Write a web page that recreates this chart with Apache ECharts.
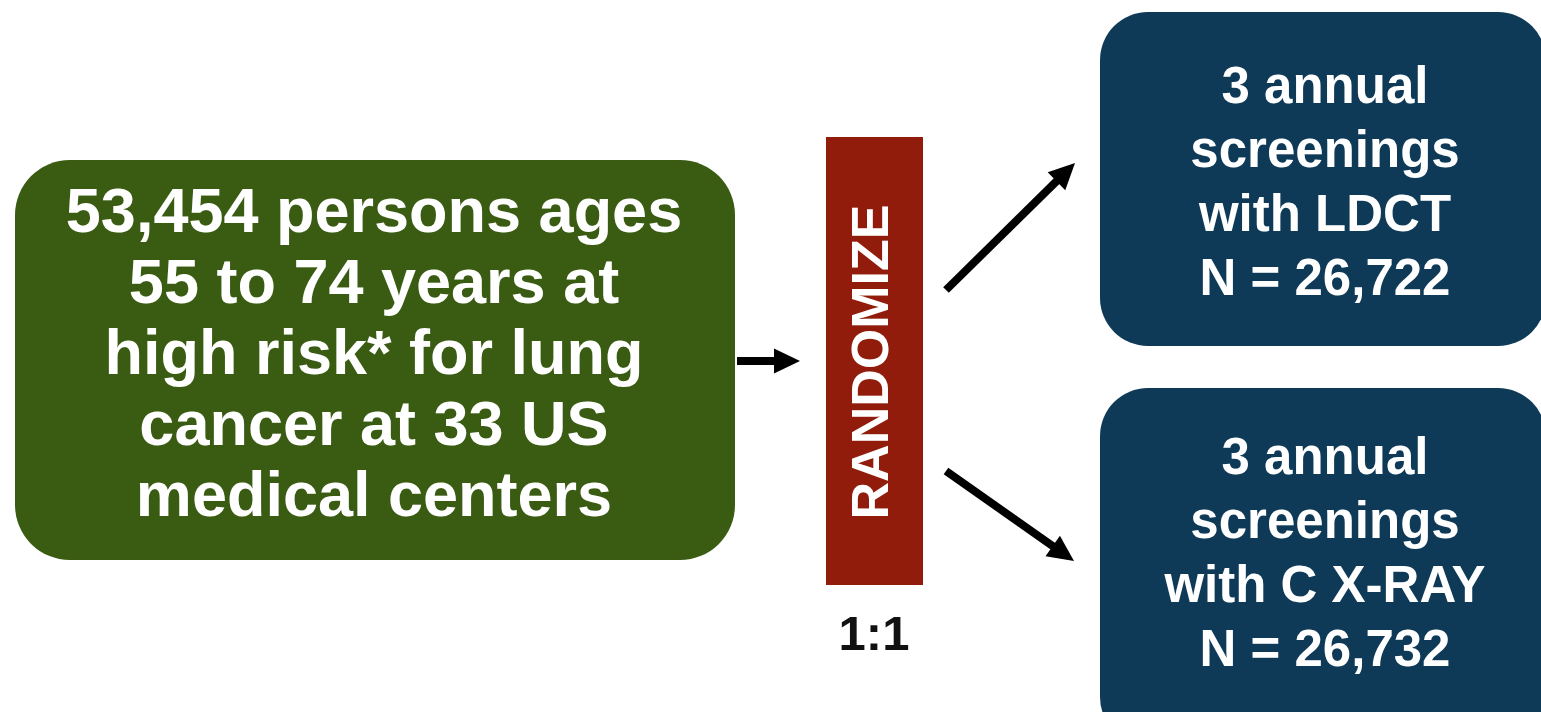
<!DOCTYPE html>
<html>
<head>
<meta charset="utf-8">
<title>NLST design</title>
<script src="https://cdn.jsdelivr.net/npm/echarts@6/dist/echarts.min.js"></script>
<style>
  html, body { margin: 0; padding: 0; background: #fff; }
  #main { width: 1541px; height: 712px; }
</style>
</head>
<body>
<div id="main"></div>
<script>
/* trial flow: enrolled -> randomize -> two arms */
var enrolled = 53454;
var ageRange = [55, 74];
var centers = 33;
var armSizes = [26722, 26732];
var armTests = ['LDCT', 'C X-RAY'];
var screenings = 3;
var ratio = '1:1';

function fmt(n) {
  return n.toLocaleString('en-US');
}

var boxLabels = [
  fmt(enrolled) + ' persons ages\n' + ageRange[0] + ' to ' + ageRange[1] +
    ' years at\nhigh risk* for lung\ncancer at ' + centers + ' US\nmedical centers',
  'RANDOMIZE',
  screenings + ' annual\nscreenings\nwith ' + armTests[0] + '\nN = ' + fmt(armSizes[0]),
  screenings + ' annual\nscreenings\nwith ' + armTests[1] + '\nN = ' + fmt(armSizes[1])
];

// layout (diagram units = pixels of the slide)
var boxRects = [
  [15, 160, 735, 560],
  [826, 137, 923, 585],
  [1100, 12, 1546, 346],
  [1100, 388, 1546, 745]
];
var textAnchors = [[374, 357], [874, 362], [1325, 185], [1325, 556]];
var arrowPaths = [
  [[737, 361], [800, 361]],
  [[946, 290], [1075, 163]],
  [[946, 471], [1074, 561]]
];
var ratioAnchor = [874, 636];

var boxColors = ['#3a5b12', '#921c0b', '#0e3a58', '#0e3a58'];
var boxRadius = [55, 0, 48, 48];
var fontSizes = [63, 52, 51, 51];
var lineHeights = [71, 52, 64, 64];
var FONT = '"Liberation Sans", Arial, sans-serif';

var chartDom = document.getElementById('main');
var myChart = echarts.init(chartDom);

var option = {
  animation: false,
  grid: { left: 0, right: 0, top: 0, bottom: 0 },
  xAxis: { type: 'value', min: 0, max: 1541, show: false },
  yAxis: { type: 'value', min: 0, max: 712, inverse: true, show: false },
  series: [
    {
      type: 'custom',
      coordinateSystem: 'cartesian2d',
      data: boxLabels.map(function (t, i) { return [i]; }),
      renderItem: function (params, api) {
        var i = api.value(0);
        var r = boxRects[i];
        var p0 = api.coord([r[0], r[1]]);
        var p1 = api.coord([r[2], r[3]]);
        var c = api.coord(textAnchors[i]);
        return {
          type: 'group',
          children: [
            {
              type: 'rect',
              shape: { x: p0[0], y: p0[1], width: p1[0] - p0[0], height: p1[1] - p0[1], r: boxRadius[i] },
              style: { fill: boxColors[i] }
            },
            {
              type: 'text',
              x: c[0],
              y: c[1],
              rotation: i === 1 ? Math.PI / 2 : 0,
              style: {
                text: boxLabels[i],
                fill: '#fff',
                font: 'bold ' + fontSizes[i] + 'px ' + FONT,
                lineHeight: lineHeights[i],
                align: 'center',
                verticalAlign: 'middle'
              }
            }
          ]
        };
      }
    },
    {
      type: 'custom',
      coordinateSystem: 'cartesian2d',
      data: arrowPaths.map(function (a, i) { return [i]; }),
      renderItem: function (params, api) {
        var a = arrowPaths[api.value(0)];
        var s = api.coord(a[0]);
        var e = api.coord(a[1]);
        var dx = e[0] - s[0], dy = e[1] - s[1];
        var len = Math.sqrt(dx * dx + dy * dy);
        var ux = dx / len, uy = dy / len;
        var hl = 26, hw = 12.5;
        var bx = e[0] - ux * hl, by = e[1] - uy * hl;
        return {
          type: 'group',
          children: [
            {
              type: 'line',
              shape: { x1: s[0], y1: s[1], x2: bx + ux * 2, y2: by + uy * 2 },
              style: { stroke: '#000', lineWidth: 8 }
            },
            {
              type: 'polygon',
              shape: { points: [[e[0], e[1]], [bx - uy * hw, by + ux * hw], [bx + uy * hw, by - ux * hw]] },
              style: { fill: '#000' }
            }
          ]
        };
      }
    },
    {
      type: 'custom',
      coordinateSystem: 'cartesian2d',
      data: [[ratioAnchor[0], ratioAnchor[1]]],
      renderItem: function (params, api) {
        var c = api.coord([api.value(0), api.value(1)]);
        return {
          type: 'text',
          x: c[0],
          y: c[1],
          style: {
            text: ratio,
            fill: '#111',
            font: 'bold 49px ' + FONT,
            align: 'center',
            verticalAlign: 'middle'
          }
        };
      }
    }
  ]
};

option && myChart.setOption(option);

window.onresize = function () {
  myChart.resize();
};
</script>
</body>
</html>
